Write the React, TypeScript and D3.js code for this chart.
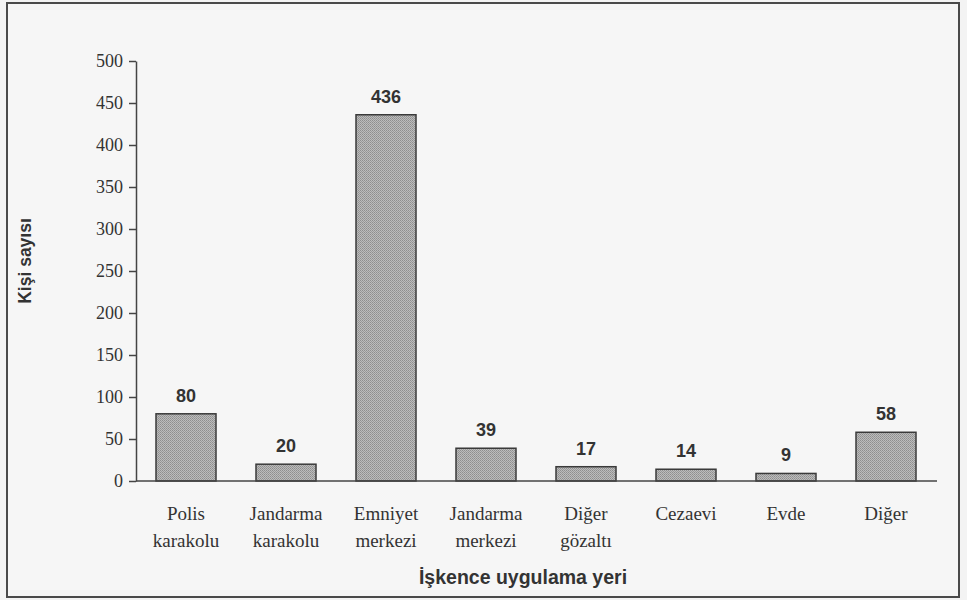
import React, { useRef, useEffect } from 'react';
import * as d3 from 'd3';

const categories = [
  ['Polis', 'karakolu'],
  ['Jandarma', 'karakolu'],
  ['Emniyet', 'merkezi'],
  ['Jandarma', 'merkezi'],
  ['Diğer', 'gözaltı'],
  ['Cezaevi'],
  ['Evde'],
  ['Diğer'],
];
const values = [80, 20, 436, 39, 17, 14, 9, 58];
const yTicks = [0, 50, 100, 150, 200, 250, 300, 350, 400, 450, 500];

const App = () => {
  const svgRef = useRef(null);
  const width = 967;
  const height = 600;

  useEffect(() => {
    if (!svgRef.current) return;
    const svg = d3.select(svgRef.current);
    svg.selectAll('*').remove();

    const left = 136, right = 936, top = 61, bottom = 481;
    const serif = "'Liberation Serif', 'Times New Roman', serif";
    const sans = "'Liberation Sans', Arial, sans-serif";

    // Stipple pattern for the bars
    const defs = svg.append('defs');
    const pat = defs.append('pattern')
      .attr('id', 'stipple')
      .attr('width', 2)
      .attr('height', 2)
      .attr('patternUnits', 'userSpaceOnUse');
    pat.append('rect').attr('width', 2).attr('height', 2).attr('fill', '#bcbcbc');
    pat.append('rect').attr('width', 1).attr('height', 1).attr('fill', '#8e8e8e');
    pat.append('rect').attr('x', 1).attr('y', 1).attr('width', 1).attr('height', 1).attr('fill', '#9a9a9a');

    // Background and frame
    svg.append('rect')
      .attr('x', 0).attr('y', 0).attr('width', width).attr('height', height)
      .attr('fill', '#f3f3f3');
    svg.append('rect')
      .attr('x', 7).attr('y', 3).attr('width', 952).attr('height', 594)
      .attr('fill', '#f6f6f6')
      .attr('stroke', '#4a4a4a')
      .attr('stroke-width', 2);

    const x = d3.scaleBand()
      .domain(categories.map((_, i) => String(i)))
      .range([left, right])
      .paddingInner(0.4)
      .paddingOuter(0.2);

    const y = d3.scaleLinear()
      .domain([0, 500])
      .range([bottom, top]);

    // Y axis
    const yAxis = svg.append('g')
      .attr('transform', `translate(${left},0)`)
      .call(d3.axisLeft(y).tickValues(yTicks).tickSize(7).tickSizeOuter(0).tickPadding(6));
    yAxis.attr('font-family', null).attr('font-size', null);
    yAxis.select('.domain').attr('stroke', '#444').attr('stroke-width', 1.5);
    yAxis.selectAll('.tick line').attr('stroke', '#444').attr('stroke-width', 1.5);
    yAxis.selectAll('.tick text')
      .style('font-family', serif)
      .style('font-size', '18px')
      .attr('fill', '#333');

    // Bars
    svg.selectAll('.bar')
      .data(values)
      .enter()
      .append('rect')
      .attr('class', 'bar')
      .attr('x', (_, i) => x(String(i)))
      .attr('y', d => y(d))
      .attr('width', x.bandwidth())
      .attr('height', d => y(0) - y(d))
      .attr('fill', 'url(#stipple)')
      .attr('stroke', '#3a3a3a')
      .attr('stroke-width', 1.5);

    // Baseline
    svg.append('line')
      .attr('x1', left).attr('x2', right + 1)
      .attr('y1', y(0)).attr('y2', y(0))
      .attr('stroke', '#444')
      .attr('stroke-width', 1.5);

    // Value labels
    svg.selectAll('.val')
      .data(values)
      .enter()
      .append('text')
      .attr('class', 'val')
      .attr('x', (_, i) => x(String(i)) + x.bandwidth() / 2)
      .attr('y', d => y(d) - 12)
      .attr('text-anchor', 'middle')
      .style('font-family', sans)
      .style('font-weight', 'bold')
      .style('font-size', '18px')
      .attr('fill', '#333')
      .text(d => d);

    // Category labels
    categories.forEach((lines, i) => {
      const cx = x(String(i)) + x.bandwidth() / 2;
      const t = svg.append('text')
        .attr('text-anchor', 'middle')
        .style('font-family', serif)
        .style('font-size', '19px')
        .attr('fill', '#333');
      lines.forEach((line, j) => {
        t.append('tspan')
          .attr('x', cx)
          .attr('y', 520 + j * 27)
          .text(line);
      });
    });

    // Axis titles
    svg.append('text')
      .attr('x', 523)
      .attr('y', 584)
      .attr('text-anchor', 'middle')
      .style('font-family', sans)
      .style('font-weight', 'bold')
      .style('font-size', '19.5px')
      .attr('fill', '#333')
      .text('İşkence uygulama yeri');

    svg.append('text')
      .attr('transform', 'translate(31,261) rotate(-90)')
      .attr('text-anchor', 'middle')
      .style('font-family', sans)
      .style('font-weight', 'bold')
      .style('font-size', '17.5px')
      .attr('fill', '#333')
      .text('Kişi sayısı');
  }, []);

  return (
    <svg
      ref={svgRef}
      width={width}
      height={height}
      style={{ position: 'absolute', left: 0, top: 0, display: 'block' }}
    ></svg>
  );
};

export default App;
